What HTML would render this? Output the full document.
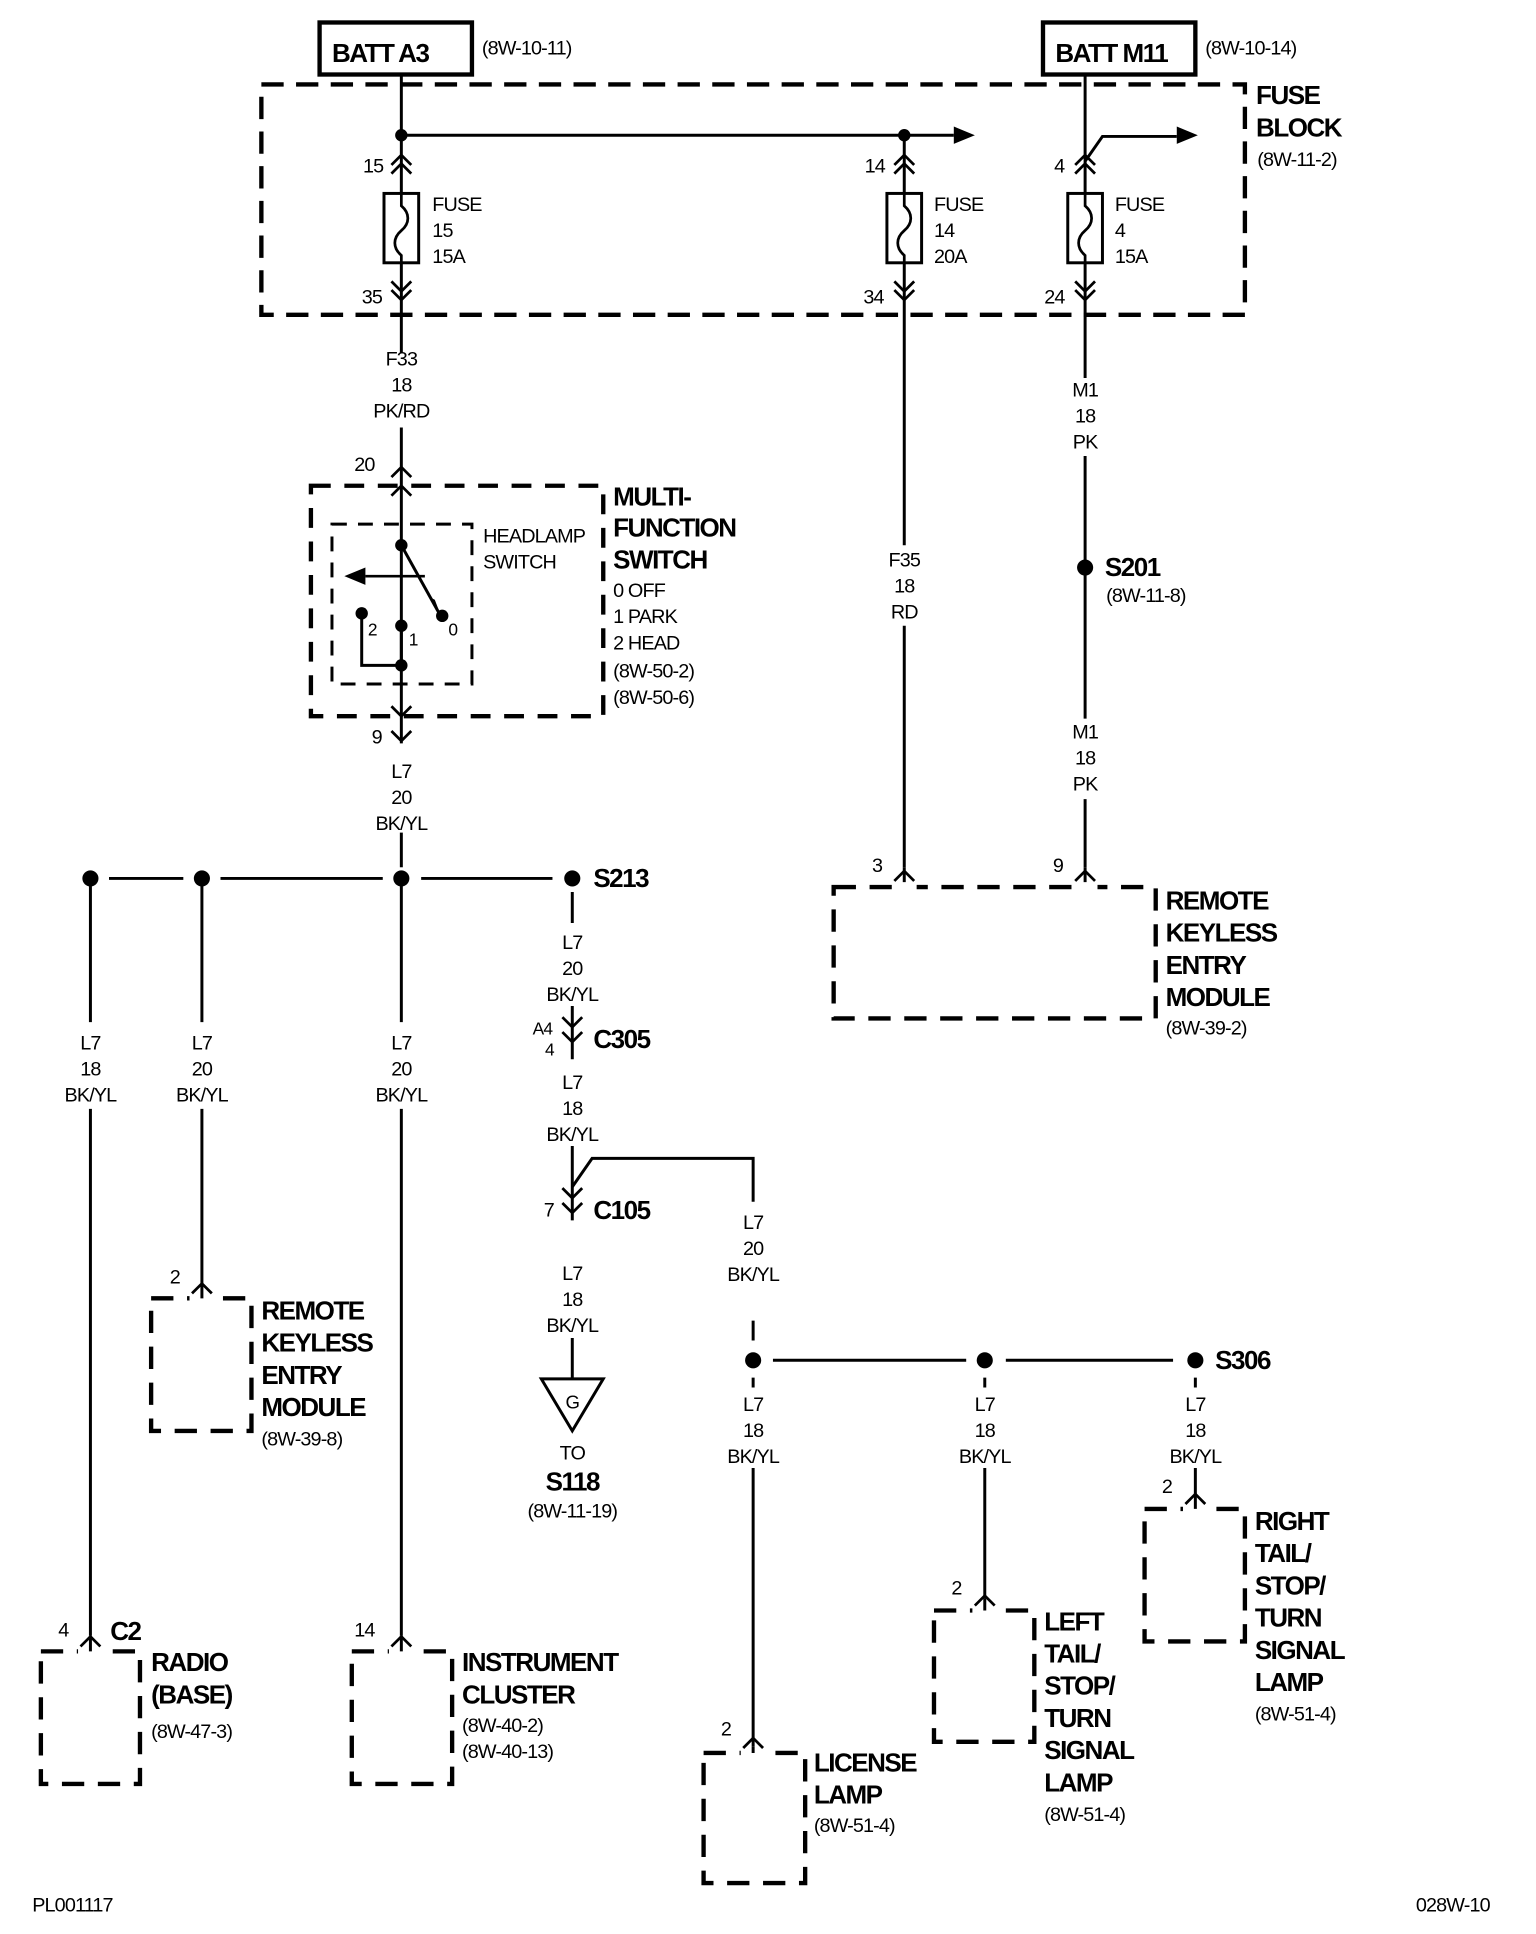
<!DOCTYPE html>
<html><head><meta charset="utf-8"><style>
html,body{margin:0;padding:0;background:#fff;}
svg{display:block;}
.n{font-family:"Liberation Sans",Arial,sans-serif;font-size:16px;letter-spacing:-0.7px;fill:#000;}
.b{font-family:"Liberation Sans",Arial,sans-serif;font-size:21px;font-weight:bold;letter-spacing:-1.2px;fill:#000;}
.c{text-anchor:middle;}
</style></head><body>
<svg width="1536" height="1934" viewBox="0 0 1240 1561" xmlns="http://www.w3.org/2000/svg">
<defs>
<path id="cu" d="M-8,7 L0,-1 L8,7" fill="none" stroke="#000" stroke-width="2.2"/>
<path id="cd" d="M-8,-7 L0,1 L8,-7" fill="none" stroke="#000" stroke-width="2.2"/>
<path id="fz" d="M0,0 V10 C7,16 7,24 0,30 C-7,36 -7,44 0,50 V56" fill="none" stroke="#000" stroke-width="2.2"/>
</defs>
<g fill="none" stroke="#000" stroke-width="2.4">
<rect x="258" y="18" width="123" height="42" stroke-width="3.5"/>
<rect x="842" y="18" width="123" height="42" stroke-width="3.5"/>
<rect x="211" y="68" width="794" height="186" stroke-width="3.5" stroke-dasharray="18,10"/>
<path d="M324,60 V285"/>
<path d="M324,109 H770"/>
<path d="M730,109 V440 M730,505 V700"/>
<path d="M876,60 V305 M876,368 V580 M876,645 V700"/>
<path d="M876,130 L890,110 H950"/>
<rect x="310" y="156" width="28" height="56" fill="#fff"/>
<rect x="716" y="156" width="28" height="56" fill="#fff"/>
<rect x="862" y="156" width="28" height="56" fill="#fff"/>
<path d="M324,345 V600"/>
<rect x="251" y="392" width="236" height="186" stroke-width="3.5" stroke-dasharray="16,11"/>
<rect x="268" y="423" width="113" height="129" stroke-dasharray="12,9"/>
<path d="M324,440 L354,494"/>
<path d="M292,495 V537 H324 M324,505 V537"/>
<path d="M324,672 V700"/>
<path d="M88,709 H148 M178,709 H309 M340,709 H446"/>
<path d="M73,709 V825 M73,895 V1320"/>
<path d="M163,709 V825 M163,895 V1040"/>
<path d="M324,709 V825 M324,895 V1320"/>
<path d="M462,720 V745 M462,812 V855 M462,925 V985 M462,1080 V1112"/>
<path d="M462,958 L478,935 H608 V970 M608,1066 V1082"/>
<path d="M624,1098 H780 M812,1098 H947"/>
<path d="M608,1112 V1120 M608,1185 V1410"/>
<path d="M795,1112 V1120 M795,1185 V1290"/>
<path d="M965,1112 V1120 M965,1185 V1208"/>
<path d="M437,1113 H487 L462,1155 Z"/>
<rect x="673" y="716" width="260" height="106" stroke-width="3.5" stroke-dasharray="18,11"/>
<rect x="122" y="1048" width="81" height="107" stroke-width="3.5" stroke-dasharray="18,11"/>
<rect x="33" y="1333" width="80" height="107" stroke-width="3.5" stroke-dasharray="18,11"/>
<rect x="284" y="1333" width="81" height="107" stroke-width="3.5" stroke-dasharray="18,11"/>
<rect x="568" y="1415" width="82" height="105" stroke-width="3.5" stroke-dasharray="18,11"/>
<rect x="754" y="1300" width="81" height="106" stroke-width="3.5" stroke-dasharray="18,11"/>
<rect x="924" y="1218" width="81" height="107" stroke-width="3.5" stroke-dasharray="18,11"/>
</g>
<g fill="#fff"><rect x="720" y="712" width="20" height="8"/><rect x="866" y="712" width="20" height="8"/>
<rect x="153" y="1044" width="20" height="8"/><rect x="63" y="1329" width="20" height="8"/><rect x="314" y="1329" width="20" height="8"/>
<rect x="598" y="1411" width="20" height="8"/><rect x="785" y="1296" width="20" height="8"/><rect x="955" y="1214" width="20" height="8"/></g>
<g stroke="#000" stroke-width="2.4">
<path d="M730,700 V712 M876,700 V712 M163,1040 V1048 M73,1320 V1333 M324,1320 V1333 M608,1410 V1415 M795,1290 V1300 M965,1208 V1218"/>
</g>
<use href="#fz" x="324" y="156"/><use href="#fz" x="730" y="156"/><use href="#fz" x="876" y="156"/>
<use href="#cu" x="324" y="126"/><use href="#cu" x="324" y="133"/>
<use href="#cu" x="730" y="126"/><use href="#cu" x="730" y="133"/>
<use href="#cu" x="876" y="126"/><use href="#cu" x="876" y="133"/>
<use href="#cd" x="324" y="234"/><use href="#cd" x="324" y="241"/>
<use href="#cd" x="730" y="234"/><use href="#cd" x="730" y="241"/>
<use href="#cd" x="876" y="234"/><use href="#cd" x="876" y="241"/>
<use href="#cu" x="324" y="378"/><use href="#cu" x="324" y="393"/>
<use href="#cd" x="324" y="577"/><use href="#cd" x="324" y="597"/>
<use href="#cd" x="462" y="828"/><use href="#cd" x="462" y="840"/>
<use href="#cd" x="462" y="966"/><use href="#cd" x="462" y="978"/>
<use href="#cu" x="730" y="704"/><use href="#cu" x="876" y="704"/>
<use href="#cu" x="163" y="1037"/><use href="#cu" x="73" y="1322"/><use href="#cu" x="324" y="1322"/>
<use href="#cu" x="608" y="1404"/><use href="#cu" x="795" y="1289"/><use href="#cu" x="965" y="1207"/>
<path d="M770,102 L787,109 L770,116 Z"/><path d="M950,102 L967,109 L950,116 Z"/>
<path d="M278,465 L295,458 V472 Z"/><path d="M295,465 H343" stroke="#000" stroke-width="2.2"/>
<path d="M347,482 L356,497 L351,484 Z"/>
<g fill="#000">
<circle cx="324" cy="109" r="5"/><circle cx="730" cy="109" r="5"/>
<circle cx="324" cy="440" r="5"/><circle cx="357" cy="497" r="5"/><circle cx="292" cy="495" r="5"/><circle cx="324" cy="505" r="5"/><circle cx="324" cy="537" r="5"/>
<circle cx="73" cy="709" r="6.5"/><circle cx="163" cy="709" r="6.5"/><circle cx="324" cy="709" r="6.5"/><circle cx="462" cy="709" r="6.5"/>
<circle cx="876" cy="458" r="6.5"/>
<circle cx="608" cy="1098" r="6.5"/><circle cx="795" cy="1098" r="6.5"/><circle cx="965" cy="1098" r="6.5"/>
</g>
<text class="b" x="268" y="50">BATT A3</text><text class="n" x="389" y="44">(8W-10-11)</text>
<text class="b" x="852" y="50">BATT M11</text><text class="n" x="973" y="44">(8W-10-14)</text>
<text class="b" x="1014" y="84">FUSE</text><text class="b" x="1014" y="110">BLOCK</text><text class="n" x="1015" y="134">(8W-11-2)</text>
<text class="n" x="293" y="139">15</text><text class="n" x="698" y="139">14</text><text class="n" x="851" y="139">4</text>
<text class="n" x="292" y="245">35</text><text class="n" x="697" y="245">34</text><text class="n" x="843" y="245">24</text>
<text class="n" x="349" y="170">FUSE</text><text class="n" x="349" y="191">15</text><text class="n" x="349" y="212">15A</text>
<text class="n" x="754" y="170">FUSE</text><text class="n" x="754" y="191">14</text><text class="n" x="754" y="212">20A</text>
<text class="n" x="900" y="170">FUSE</text><text class="n" x="900" y="191">4</text><text class="n" x="900" y="212">15A</text>
<text class="n c" x="324" y="295">F33</text><text class="n c" x="324" y="316">18</text><text class="n c" x="324" y="337">PK/RD</text>
<text class="n c" x="730" y="457">F35</text><text class="n c" x="730" y="478">18</text><text class="n c" x="730" y="499">RD</text>
<text class="n c" x="876" y="320">M1</text><text class="n c" x="876" y="341">18</text><text class="n c" x="876" y="362">PK</text>
<text class="n c" x="876" y="596">M1</text><text class="n c" x="876" y="617">18</text><text class="n c" x="876" y="638">PK</text>
<text class="n c" x="324" y="628">L7</text><text class="n c" x="324" y="649">20</text><text class="n c" x="324" y="670">BK/YL</text>
<text class="n c" x="73" y="847">L7</text><text class="n c" x="73" y="868">18</text><text class="n c" x="73" y="889">BK/YL</text>
<text class="n c" x="163" y="847">L7</text><text class="n c" x="163" y="868">20</text><text class="n c" x="163" y="889">BK/YL</text>
<text class="n c" x="324" y="847">L7</text><text class="n c" x="324" y="868">20</text><text class="n c" x="324" y="889">BK/YL</text>
<text class="n c" x="462" y="766">L7</text><text class="n c" x="462" y="787">20</text><text class="n c" x="462" y="808">BK/YL</text>
<text class="n c" x="462" y="879">L7</text><text class="n c" x="462" y="900">18</text><text class="n c" x="462" y="921">BK/YL</text>
<text class="n c" x="462" y="1033">L7</text><text class="n c" x="462" y="1054">18</text><text class="n c" x="462" y="1075">BK/YL</text>
<text class="n c" x="608" y="992">L7</text><text class="n c" x="608" y="1013">20</text><text class="n c" x="608" y="1034">BK/YL</text>
<text class="n c" x="608" y="1139">L7</text><text class="n c" x="608" y="1160">18</text><text class="n c" x="608" y="1181">BK/YL</text>
<text class="n c" x="795" y="1139">L7</text><text class="n c" x="795" y="1160">18</text><text class="n c" x="795" y="1181">BK/YL</text>
<text class="n c" x="965" y="1139">L7</text><text class="n c" x="965" y="1160">18</text><text class="n c" x="965" y="1181">BK/YL</text>
<text class="n c" x="462" y="1137" style="font-size:15px">G</text>
<text class="n c" x="462" y="1178">TO</text><text class="b c" x="462" y="1203">S118</text><text class="n c" x="462" y="1225">(8W-11-19)</text>
<text class="n" x="286" y="380">20</text><text class="n" x="300" y="600">9</text>
<text class="b" x="495" y="408">MULTI-</text><text class="b" x="495" y="433">FUNCTION</text><text class="b" x="495" y="459">SWITCH</text>
<text class="n" x="495" y="482">0 OFF</text><text class="n" x="495" y="503">1 PARK</text><text class="n" x="495" y="524">2 HEAD</text>
<text class="n" x="495" y="547">(8W-50-2)</text><text class="n" x="495" y="568">(8W-50-6)</text>
<text class="n" x="390" y="438">HEADLAMP</text><text class="n" x="390" y="459">SWITCH</text>
<text class="n" x="297" y="513" style="font-size:14px">2</text><text class="n" x="330" y="521" style="font-size:14px">1</text><text class="n" x="362" y="513" style="font-size:14px">0</text>
<text class="b" x="479" y="716">S213</text><text class="b" x="892" y="465">S201</text><text class="n" x="893" y="486">(8W-11-8)</text>
<text class="n" x="430" y="835" style="font-size:14px">A4</text><text class="n" x="440" y="852" style="font-size:14px">4</text><text class="b" x="479" y="846">C305</text>
<text class="n" x="439" y="982">7</text><text class="b" x="479" y="984">C105</text>
<text class="b" x="981" y="1105">S306</text>
<text class="n" x="704" y="704">3</text><text class="n" x="850" y="704">9</text>
<text class="b" x="941" y="734">REMOTE</text><text class="b" x="941" y="760">KEYLESS</text><text class="b" x="941" y="786">ENTRY</text><text class="b" x="941" y="812">MODULE</text><text class="n" x="941" y="835">(8W-39-2)</text>
<text class="n" x="137" y="1036">2</text>
<text class="b" x="211" y="1065">REMOTE</text><text class="b" x="211" y="1091">KEYLESS</text><text class="b" x="211" y="1117">ENTRY</text><text class="b" x="211" y="1143">MODULE</text><text class="n" x="211" y="1167">(8W-39-8)</text>
<text class="n" x="47" y="1321">4</text><text class="b" x="89" y="1324">C2</text>
<text class="b" x="122" y="1349">RADIO</text><text class="b" x="122" y="1375">(BASE)</text><text class="n" x="122" y="1403">(8W-47-3)</text>
<text class="n" x="286" y="1321">14</text>
<text class="b" x="373" y="1349">INSTRUMENT</text><text class="b" x="373" y="1375">CLUSTER</text><text class="n" x="373" y="1398">(8W-40-2)</text><text class="n" x="373" y="1419">(8W-40-13)</text>
<text class="n" x="582" y="1401">2</text>
<text class="b" x="657" y="1430">LICENSE</text><text class="b" x="657" y="1456">LAMP</text><text class="n" x="657" y="1479">(8W-51-4)</text>
<text class="n" x="768" y="1287">2</text>
<text class="b" x="843" y="1316">LEFT</text><text class="b" x="843" y="1342">TAIL/</text><text class="b" x="843" y="1368">STOP/</text><text class="b" x="843" y="1394">TURN</text><text class="b" x="843" y="1420">SIGNAL</text><text class="b" x="843" y="1446">LAMP</text><text class="n" x="843" y="1470">(8W-51-4)</text>
<text class="n" x="938" y="1205">2</text>
<text class="b" x="1013" y="1235">RIGHT</text><text class="b" x="1013" y="1261">TAIL/</text><text class="b" x="1013" y="1287">STOP/</text><text class="b" x="1013" y="1313">TURN</text><text class="b" x="1013" y="1339">SIGNAL</text><text class="b" x="1013" y="1365">LAMP</text><text class="n" x="1013" y="1389">(8W-51-4)</text>
<text class="n" x="26" y="1543">PL001117</text><text class="n" x="1143" y="1543">028W-10</text>
</svg>
</body></html>
